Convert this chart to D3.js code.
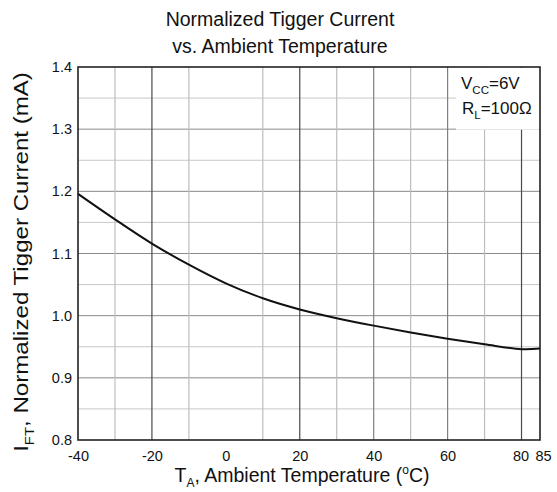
<!DOCTYPE html>
<html>
<head>
<meta charset="utf-8">
<script src="https://cdn.jsdelivr.net/npm/d3@7"></script>
<style>
  html, body { margin: 0; padding: 0; background: #fff; }
  svg { display: block; }
  text { font-family: "Liberation Sans", Arial, sans-serif; fill: #111; }
</style>
</head>
<body>
<svg id="chart" width="557" height="492"></svg>
<script>
// ---- data ----
const temps = [-40, -30, -20, -10, 0, 10, 20, 30, 40, 50, 60, 70, 80, 85];
const current = [1.196, 1.155, 1.116, 1.082, 1.052, 1.028, 1.010, 0.996, 0.984, 0.973, 0.963, 0.954, 0.946, 0.947];
const xTickLabels = [-40, -20, 0, 20, 40, 60, 80, 85];
const yTickLabels = [0.8, 0.9, 1.0, 1.1, 1.2, 1.3, 1.4];
const xGridDark = [-20, 20, 80];
const xGridMid = [40, 60];
const xGridLight = [-30, -10, 10, 30, 50, 70];
const yGridMajor = [0.9, 1.0, 1.1, 1.2, 1.3];
const yGridMinor = [0.85, 0.95, 1.05, 1.15, 1.25, 1.35];

const svg = d3.select("#chart");
const L = 78, R = 540, T = 67, B = 440;

const x = d3.scaleLinear().domain([-40, 85]).range([L, R]);
const y = d3.scaleLinear().domain([0.8, 1.4]).range([B, T]);

const g = svg.append("g");

// horizontal grid
g.selectAll(".hmin").data(yGridMinor).join("line")
  .attr("x1", L).attr("x2", R).attr("y1", d => y(d)).attr("y2", d => y(d))
  .attr("stroke", "#c8c8c8").attr("stroke-width", 1);
g.selectAll(".hmaj").data(yGridMajor).join("line")
  .attr("x1", L).attr("x2", R).attr("y1", d => y(d)).attr("y2", d => y(d))
  .attr("stroke", "#8a8a8a").attr("stroke-width", 1);

// vertical grid
g.selectAll(".vl").data(xGridLight).join("line")
  .attr("x1", d => x(d)).attr("x2", d => x(d)).attr("y1", T).attr("y2", B)
  .attr("stroke", "#bdbdbd").attr("stroke-width", 1.2);
g.selectAll(".vm").data(xGridMid).join("line")
  .attr("x1", d => x(d)).attr("x2", d => x(d)).attr("y1", T).attr("y2", B)
  .attr("stroke", "#808080").attr("stroke-width", 1.2);
g.selectAll(".vd").data(xGridDark).join("line")
  .attr("x1", d => x(d)).attr("x2", d => x(d)).attr("y1", T).attr("y2", B)
  .attr("stroke", "#4a4a4a").attr("stroke-width", 1.2);

// annotation box background
g.append("rect").attr("x", 456).attr("y", T + 1).attr("width", R - 457).attr("height", y(1.3) - T - 0.5)
  .attr("fill", "#fff");

// frame
g.append("rect").attr("x", L).attr("y", T).attr("width", R - L).attr("height", B - T)
  .attr("fill", "none").attr("stroke", "#222").attr("stroke-width", 1.6);

// axes (labels only)
const xAxis = d3.axisBottom(x).tickValues(xTickLabels).tickSize(0).tickPadding(11).tickFormat(d => String(d));
const ax = svg.append("g").attr("transform", `translate(0,${B})`).call(xAxis);
ax.select(".domain").remove();
ax.selectAll("text").attr("font-size", 14.5).attr("font-family", "Liberation Sans, Arial, sans-serif").attr("fill", "#111")
  .attr("dx", d => d === 85 ? 3 : (d === 80 ? -1 : 0));

const yAxis = d3.axisLeft(y).tickValues(yTickLabels).tickSize(0).tickPadding(6).tickFormat(d3.format(".1f"));
const ay = svg.append("g").attr("transform", `translate(${L},0)`).call(yAxis);
ay.select(".domain").remove();
ay.selectAll("text").attr("font-size", 14.5).attr("font-family", "Liberation Sans, Arial, sans-serif").attr("fill", "#111");

// curve
const pts = temps.map((t, i) => [t, current[i]]);
svg.append("path").datum(pts)
  .attr("fill", "none").attr("stroke", "#111").attr("stroke-width", 2)
  .attr("d", d3.line().x(d => x(d[0])).y(d => y(d[1])).curve(d3.curveCatmullRom.alpha(0.5)));

// title
const title = svg.append("text").attr("text-anchor", "middle").attr("font-size", 19.5);
title.append("tspan").attr("x", 280).attr("y", 26).text("Normalized Tigger Current");
title.append("tspan").attr("x", 280).attr("y", 53).text("vs. Ambient Temperature");

// annotation
const a1 = svg.append("text").attr("x", 461).attr("y", 89).attr("font-size", 17);
a1.append("tspan").text("V");
a1.append("tspan").attr("font-size", 11.5).attr("dy", 5).text("CC");
a1.append("tspan").attr("dy", -5).text("=6V");
const a2 = svg.append("text").attr("x", 462).attr("y", 114).attr("font-size", 17);
a2.append("tspan").text("R");
a2.append("tspan").attr("font-size", 11.5).attr("dy", 5).text("L");
a2.append("tspan").attr("dy", -5).text("=100Ω");

// x axis title
const xt = svg.append("text").attr("text-anchor", "middle").attr("x", 302).attr("y", 482).attr("font-size", 19.5);
xt.append("tspan").text("T");
xt.append("tspan").attr("font-size", 12).attr("dy", 5).text("A");
xt.append("tspan").attr("dy", -5).text(", Ambient Temperature (");
xt.append("tspan").attr("font-size", 12).attr("dy", -8).text("o");
xt.append("tspan").attr("dy", 8).text("C)");

// y axis title (stretched along its length like the reference)
const ytg = svg.append("g").attr("transform", "translate(28,262) rotate(-90)");
const yt = ytg.append("text").attr("text-anchor", "middle").attr("font-size", 21);
yt.append("tspan").text("I");
yt.append("tspan").attr("font-size", 13).attr("dy", 6).text("FT");
yt.append("tspan").attr("dy", -6).text(", Normalized Tigger Current (mA)");
const w = yt.node().getBBox().width;
yt.attr("transform", `scale(${380 / w},1)`);
</script>
</body>
</html>
